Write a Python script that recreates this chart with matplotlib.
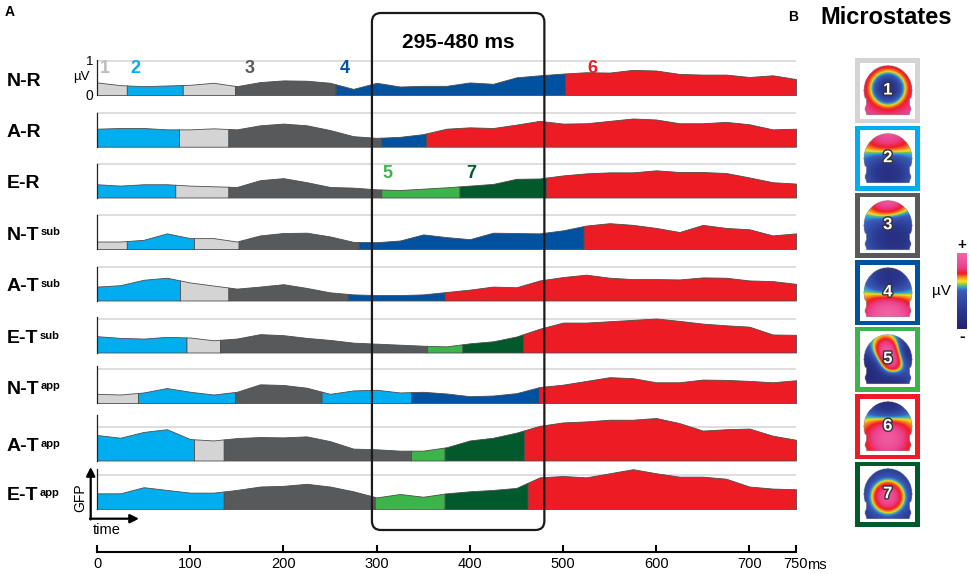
import numpy as np
import matplotlib
matplotlib.use('Agg')
import matplotlib.pyplot as plt
from matplotlib.patches import FancyBboxPatch, Rectangle
from matplotlib.colors import LinearSegmentedColormap
import matplotlib.patheffects as pe

plt.rcParams['font.family'] = ['Liberation Sans', 'DejaVu Sans']

# ---- data ---------------------------------------------------------------
times = np.arange(0, 751, 25)   # ms

row_names = ['N-R', 'A-R', 'E-R', 'N-T', 'A-T', 'E-T', 'N-T', 'A-T', 'E-T']
row_sups = ['', '', '', 'sub', 'sub', 'sub', 'app', 'app', 'app']

# global field power (uV) every 25 ms
gfp_NR = [0.37, 0.29, 0.26, 0.28, 0.30, 0.36, 0.26, 0.38, 0.43, 0.42, 0.36, 0.18, 0.36, 0.25, 0.27, 0.27,
          0.37, 0.33, 0.52, 0.58, 0.63, 0.67, 0.66, 0.74, 0.72, 0.62, 0.60, 0.60, 0.53, 0.58, 0.47]
gfp_AR = [0.53, 0.55, 0.55, 0.51, 0.51, 0.54, 0.51, 0.63, 0.68, 0.63, 0.49, 0.31, 0.26, 0.29, 0.37, 0.53,
          0.57, 0.55, 0.65, 0.76, 0.68, 0.69, 0.76, 0.83, 0.80, 0.69, 0.69, 0.73, 0.66, 0.51, 0.53]
gfp_ER = [0.39, 0.35, 0.39, 0.39, 0.35, 0.33, 0.31, 0.51, 0.57, 0.45, 0.31, 0.29, 0.24, 0.22, 0.26, 0.30,
          0.35, 0.40, 0.55, 0.56, 0.65, 0.71, 0.74, 0.74, 0.80, 0.75, 0.75, 0.72, 0.59, 0.45, 0.41]
gfp_NTsub = [0.22, 0.22, 0.27, 0.46, 0.32, 0.32, 0.22, 0.40, 0.47, 0.48, 0.37, 0.21, 0.20, 0.25, 0.43, 0.35,
             0.29, 0.48, 0.47, 0.46, 0.55, 0.69, 0.76, 0.71, 0.62, 0.50, 0.71, 0.62, 0.58, 0.40, 0.46]
gfp_ATsub = [0.41, 0.45, 0.61, 0.67, 0.53, 0.44, 0.35, 0.41, 0.48, 0.37, 0.24, 0.18, 0.16, 0.16, 0.18, 0.25,
             0.32, 0.41, 0.39, 0.59, 0.69, 0.76, 0.67, 0.63, 0.63, 0.62, 0.68, 0.67, 0.59, 0.57, 0.49]
gfp_ETsub = [0.48, 0.43, 0.41, 0.46, 0.44, 0.36, 0.41, 0.54, 0.51, 0.43, 0.37, 0.29, 0.26, 0.23, 0.20, 0.18,
             0.27, 0.33, 0.47, 0.70, 0.88, 0.88, 0.92, 0.96, 1.00, 0.93, 0.85, 0.80, 0.76, 0.53, 0.52]
gfp_NTapp = [0.27, 0.25, 0.31, 0.44, 0.33, 0.25, 0.33, 0.55, 0.53, 0.45, 0.27, 0.37, 0.39, 0.31, 0.33, 0.28,
             0.20, 0.22, 0.29, 0.47, 0.54, 0.65, 0.76, 0.73, 0.61, 0.61, 0.69, 0.68, 0.65, 0.61, 0.67]
gfp_ATapp = [0.75, 0.67, 0.84, 0.92, 0.63, 0.59, 0.66, 0.69, 0.68, 0.71, 0.57, 0.35, 0.33, 0.29, 0.29, 0.39,
             0.59, 0.67, 0.82, 1.02, 1.12, 1.15, 1.20, 1.20, 1.25, 1.10, 0.88, 0.92, 0.94, 0.73, 0.61]
gfp_ETapp = [0.47, 0.47, 0.65, 0.57, 0.49, 0.49, 0.57, 0.67, 0.69, 0.75, 0.67, 0.53, 0.35, 0.45, 0.37, 0.47,
             0.53, 0.57, 0.63, 0.94, 0.98, 0.94, 1.06, 1.18, 1.06, 0.96, 0.96, 0.90, 0.67, 0.61, 0.59]
gfp = [gfp_NR, gfp_AR, gfp_ER, gfp_NTsub, gfp_ATsub, gfp_ETsub, gfp_NTapp, gfp_ATapp, gfp_ETapp]

# microstate segments: (end ms, state)
seg_NR = [(32, 1), (92, 2), (148, 1), (256, 3), (502, 4), (750, 6)]
seg_AR = [(88, 2), (141, 1), (305, 3), (353, 4), (750, 6)]
seg_ER = [(84, 2), (141, 1), (305, 3), (389, 5), (482, 7), (750, 6)]
seg_NTsub = [(32, 1), (104, 2), (152, 1), (281, 3), (522, 4), (750, 6)]
seg_ATsub = [(89, 2), (141, 1), (269, 3), (373, 4), (750, 6)]
seg_ETsub = [(96, 2), (132, 1), (354, 3), (392, 5), (457, 7), (750, 6)]
seg_NTapp = [(44, 1), (148, 2), (241, 3), (337, 2), (474, 4), (750, 6)]
seg_ATapp = [(104, 2), (136, 1), (337, 3), (373, 5), (458, 7), (750, 6)]
seg_ETapp = [(136, 2), (298, 3), (373, 5), (462, 7), (750, 6)]
segments = [seg_NR, seg_AR, seg_ER, seg_NTsub, seg_ATsub, seg_ETsub, seg_NTapp, seg_ATapp, seg_ETapp]

state_colors = {1: '#d4d4d4', 2: '#00aeef', 3: '#58595b', 4: '#0052a0',
                5: '#3cb44a', 6: '#ed1c24', 7: '#005a2b'}

# numbers written over the traces: (row, ms, uV, state)
state_labels = [(0, 8, 0.79, 1), (0, 41, 0.79, 2), (0, 164, 0.79, 3), (0, 266, 0.79, 4),
                (0, 532, 0.79, 6), (2, 312, 0.71, 5), (2, 402, 0.71, 7)]

window = (295, 480)
xticks = [0, 100, 200, 300, 400, 500, 600, 700, 750]

# rough topography of each map: gaussian sources (x, y, sigma, amplitude) + offset
topo_sources = {
    1: ([(0, 0.08, 0.5, -1.9)], 0.9),
    2: ([(0, 1.0, 0.6, 1.1), (0, -0.5, 0.6, -1.0)], 0.0),
    3: ([(0, 1.05, 0.5, 1.3), (0.2, -0.45, 0.7, -1.0)], 0.0),
    4: ([(0.05, 0.55, 0.55, -1.0), (0, -0.95, 0.6, 1.7)], 0.0),
    5: ([(-0.05, 0.4, 0.33, 1.3), (0.15, -0.15, 0.33, 1.3), (-0.8, -0.5, 0.55, -1.0),
         (0.8, 0.3, 0.45, -0.8), (0.2, -0.95, 0.4, -0.8)], -0.2),
    6: ([(0, 1.0, 0.55, -1.2), (0, -0.4, 0.55, 1.3)], 0.0),
    7: ([(0, -0.1, 0.48, 1.9)], -0.8),
}

# ---- layout ---------------------------------------------------------------
W, H = 970, 574
fig = plt.figure(figsize=(W / 100, H / 100), dpi=100)

X0, X1 = 97, 796          # pixels of 0 and 750 ms
UV = 34                   # pixels per uV
ROW_H = 48
baselines = [95, 146.7, 197.5, 249, 300.5, 352.5, 403, 460.5, 509.3]
spine_tops = [1.02, 1.0, 1.0, 1.0, 1.0, 1.05, 1.1, 1.33, 1.2]


def px_axes(left, top, width, height):
    return fig.add_axes([left / W, 1 - (top + height) / H, width / W, height / H])


def ms2px(ms):
    return X0 + ms * (X1 - X0) / 750


row_axes = []
for i in range(9):
    ax = px_axes(X0, baselines[i] - ROW_H, X1 - X0, ROW_H)
    ax.set_xlim(0, 750)
    ax.set_ylim(0, ROW_H / UV)
    ax.axhline(1, color='#dedede', lw=1.4, zorder=0)
    start = 0
    for end, st in segments[i]:
        xs = np.concatenate([[start], times[(times > start) & (times < end)], [end]])
        ys = np.interp(xs, times, gfp[i])
        ax.fill_between(xs, 0, ys, facecolor=state_colors[st], edgecolor='#4d4d4d', lw=0.6, zorder=2)
        start = end
    for s in ['top', 'right', 'bottom']:
        ax.spines[s].set_visible(False)
    ax.spines['left'].set_bounds(0, spine_tops[i])
    ax.spines['left'].set_color('#222222')
    ax.spines['left'].set_linewidth(0.9)
    ax.set_xticks([])
    ax.set_yticks([])
    ax.patch.set_visible(False)
    row_axes.append(ax)

for row, ms, y, st in state_labels:
    row_axes[row].text(ms, y, str(st), color='#bdbdbd' if st == 1 else state_colors[st],
                       fontsize=13, fontweight='bold', ha='center', va='center', zorder=5)

# time axis
tax = px_axes(X0, 540, X1 - X0, 11.7)
tax.set_xlim(0, 750)
tax.set_xticks(xticks)
tax.set_xticklabels([str(t) for t in xticks])
tax.set_yticks([])
for s in ['top', 'right', 'left']:
    tax.spines[s].set_visible(False)
tax.spines['bottom'].set_linewidth(1.5)
tax.tick_params(axis='x', direction='in', length=5, width=1.5, labelsize=10.5, pad=4)
tax.patch.set_visible(False)
tax.annotate('ms', xy=(750, 0), xycoords=('data', 'axes fraction'), xytext=(8.0, -4.2),
             textcoords='offset points', ha='left', va='top', fontsize=10.5)

# overlay in pixel units for labels and the window box
ov = fig.add_axes([0, 0, 1, 1])
ov.set_xlim(0, W)
ov.set_ylim(H, 0)
ov.axis('off')

for i in range(9):
    t = ov.text(7, baselines[i] - 14, row_names[i], fontsize=14, fontweight='bold',
                ha='left', va='center')
    if row_sups[i]:
        ov.annotate(row_sups[i], xy=(1, 1), xycoords=t, xytext=(0.8, -0.6),
                    textcoords='offset points', ha='left', va='top', fontsize=8, fontweight='bold')

ov.text(90, 62, '1', ha='center', va='center', fontsize=9.5)
ov.text(81, 77, 'µV', ha='center', va='center', fontsize=9.5)
ov.text(89.5, 95.5, '0', ha='center', va='center', fontsize=10)

bx0, bx1 = ms2px(window[0]), ms2px(window[1])
ov.add_patch(FancyBboxPatch((bx0, 13), bx1 - bx0, 517, boxstyle='round,pad=0,rounding_size=9',
                            fill=False, lw=1.6, ec='#1a1a1a', zorder=10))
ov.text((bx0 + bx1) / 2, 42, '%d-%d ms' % window, fontsize=15, fontweight='bold',
        ha='center', va='center')

# GFP / time arrows
arrow = dict(arrowstyle='-|>', lw=1.6, color='black', mutation_scale=13, shrinkA=0, shrinkB=0)
ov.annotate('', xy=(90.7, 467), xytext=(90.7, 519.5), arrowprops=arrow)
ov.annotate('', xy=(139, 518.7), xytext=(90, 518.7), arrowprops=arrow)
ov.text(80, 498, 'GFP', rotation=90, ha='center', va='center', fontsize=10)
ov.text(107, 530, 'time', ha='center', va='center', fontsize=10.5)

ov.text(10, 12, 'A', fontsize=10, fontweight='bold', ha='center', va='center')
ov.text(793, 17, 'B', fontsize=10, fontweight='bold', ha='center', va='center')
ov.text(886, 17, 'Microstates', fontsize=17, fontweight='bold', ha='center', va='center')

# microstate maps
topo_cmap = LinearSegmentedColormap.from_list('topo', [
    (0.0, '#23236e'), (0.2, '#2b3990'), (0.4, '#3a5cb8'), (0.47, '#31a9e0'), (0.5, '#7ac143'),
    (0.53, '#f4e62a'), (0.58, '#f7941d'), (0.68, '#ed1c24'), (0.82, '#ec3f8c'), (1.0, '#f06ba8')])

gx, gy = np.meshgrid(np.linspace(-1, 1, 120), np.linspace(-1, 1, 120))
head = ((gy >= -0.3) & (gx ** 2 / 0.9 ** 2 + gy ** 2 / 0.95 ** 2 <= 1)) | \
       ((gy < -0.3) & (gy >= -0.92) & (np.abs(gx) <= 0.8 + 0.06 * np.exp(-((gy + 0.7) / 0.12) ** 2)))

frame_tops = [58, 125.7, 192.7, 260, 326.7, 394, 461.7]
for k, top in enumerate(frame_tops):
    st = k + 1
    ov.add_patch(Rectangle((855.5, top), 64.5, 65, facecolor=state_colors[st], edgecolor='none'))
    ov.add_patch(Rectangle((860, top + 4.5), 55.5, 56, facecolor='white', edgecolor='none'))
    sources, offset = topo_sources[st]
    v = np.full_like(gx, offset)
    for cx, cy, s, a in sources:
        v += a * np.exp(-((gx - cx) ** 2 + (gy - cy) ** 2) / (2 * s * s))
    v = np.tanh(1.0 * v)
    v[~head] = np.nan
    mx = px_axes(861, top + 6, 53.5, 53)
    mx.imshow(v, origin='lower', extent=(-1, 1, -1, 1), cmap=topo_cmap, vmin=-1, vmax=1,
              aspect='auto', interpolation='bilinear')
    mx.text(0, 0.02, str(st), color='white', fontsize=12, fontweight='bold', ha='center', va='center',
            path_effects=[pe.withStroke(linewidth=2, foreground='#333333')])
    mx.axis('off')

# colour scale: pink on top, blue in the lower half
bar_pos = np.linspace(0, 1, 200)
bar_val = np.interp(bar_pos, [0, 0.2, 0.28, 0.33, 0.38, 0.43, 0.5, 1.0],
                    [1, 0.64, 0.36, 0.16, 0.06, 0.0, -0.2, -1.0])
cax = px_axes(957.5, 253, 9.5, 76)
cax.imshow(bar_val[:, None], cmap=topo_cmap, vmin=-1, vmax=1, aspect='auto')
cax.axis('off')
ov.text(962, 245, '+', ha='center', va='center', fontsize=11, fontweight='bold')
ov.text(962, 337, '-', ha='center', va='center', fontsize=12, fontweight='bold')
ov.text(941, 291, 'µV', ha='center', va='center', fontsize=11)

fig.savefig('out.png', dpi=100)
